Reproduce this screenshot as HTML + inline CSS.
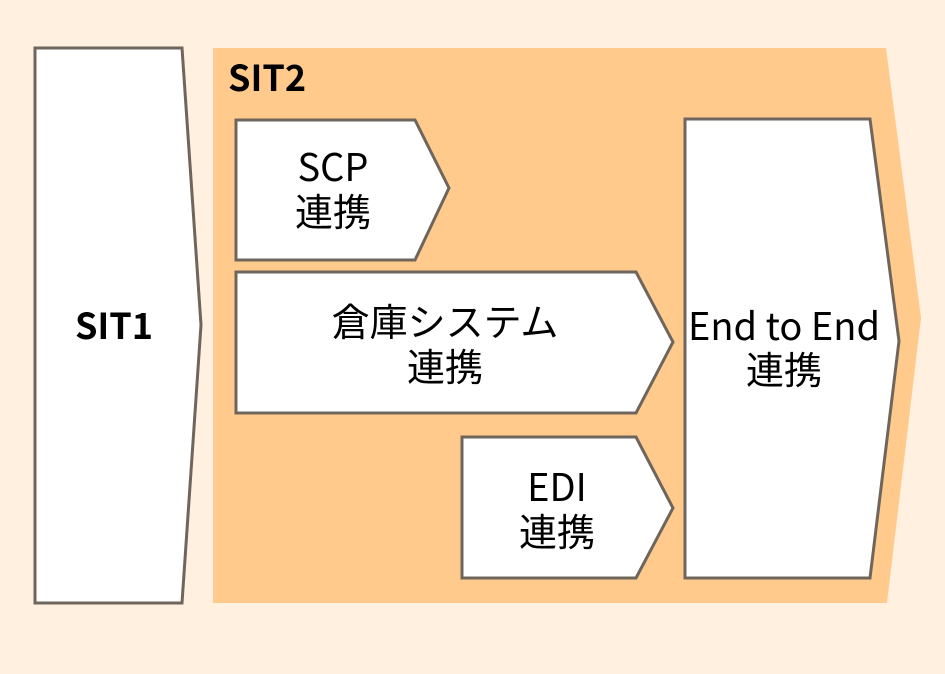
<!DOCTYPE html>
<html><head><meta charset="utf-8"><style>
html,body{margin:0;padding:0;background:#fff0e0;}
svg{display:block;}
text{font-family:"Noto Sans CJK JP",sans-serif;fill:#000;}
</style></head><body>
<svg width="945" height="674" viewBox="0 0 945 674" xmlns="http://www.w3.org/2000/svg">
<rect width="945" height="674" fill="#fff0e0"/>
<polygon points="213,48 886,48 921,318 887,603 213,603" fill="#ffca8c"/>
<g fill="#fff" stroke="#6e665c" stroke-width="3" stroke-linejoin="miter">
<polygon points="35,48 182,48 201,325 182,603 35,603"/>
<polygon points="236,120 415,120 449,188 415,260 236,260"/>
<polygon points="236,272 636,272 673,342 636,413 236,413"/>
<polygon points="462,437 636,437 673,508 636,578 462,578"/>
<polygon points="685,119 870,119 899,341 870,578 685,578"/>
</g>
<text x="114" y="339" font-size="36" font-weight="bold" text-anchor="middle">SIT1</text>
<text x="228" y="91" font-size="36" font-weight="bold">SIT2</text>
<g font-size="38" text-anchor="middle">
<text x="333" y="181">SCP</text><text x="333" y="226">連携</text>
<text x="445" y="336">倉庫システム</text><text x="445" y="381">連携</text>
<text x="557" y="501">EDI</text><text x="557" y="546">連携</text>
<text x="784" y="340">End to End</text><text x="784" y="384">連携</text>
</g>
</svg>
</body></html>
